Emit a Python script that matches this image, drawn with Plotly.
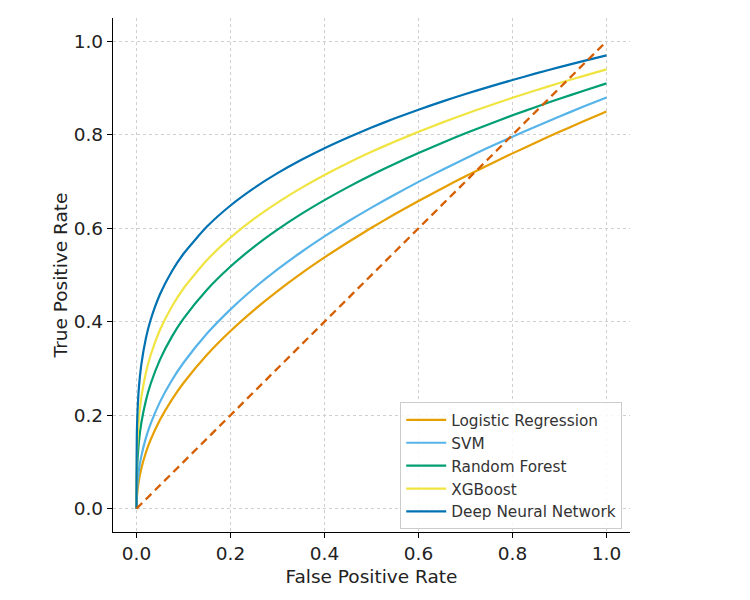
import plotly.graph_objects as go

fpr = [0, 0.001, 0.005, 0.01, 0.02, 0.03, 0.05, 0.075, 0.1, 0.15, 0.2, 0.25, 0.3, 0.35,
       0.4, 0.45, 0.5, 0.55, 0.6, 0.65, 0.7, 0.75, 0.8, 0.85, 0.9, 0.95, 1.0]

tpr_lr = [0, 0.0269, 0.0601, 0.085, 0.1202, 0.1472, 0.1901, 0.2328, 0.2688, 0.3292, 0.3801,
          0.425, 0.4656, 0.5029, 0.5376, 0.5702, 0.6010, 0.6304, 0.6584, 0.6853, 0.7112,
          0.7361, 0.7603, 0.7837, 0.8064, 0.8285, 0.85]
tpr_svm = [0, 0.0393, 0.0811, 0.1108, 0.1514, 0.1816, 0.2285, 0.2743, 0.3122, 0.3748, 0.4265,
           0.4716, 0.5119, 0.5487, 0.5826, 0.6144, 0.6442, 0.6724, 0.6993, 0.7249, 0.7495,
           0.7732, 0.7960, 0.8180, 0.8393, 0.8599, 0.88]
tpr_rf = [0, 0.0811, 0.1424, 0.1816, 0.2314, 0.2667, 0.3189, 0.3676, 0.4065, 0.4685, 0.5181,
          0.5602, 0.5971, 0.6302, 0.6603, 0.6881, 0.7140, 0.7382, 0.7610, 0.7826, 0.8032,
          0.8228, 0.8417, 0.8597, 0.8771, 0.8938, 0.91]
tpr_xgb = [0, 0.1183, 0.1918, 0.2361, 0.2907, 0.3283, 0.3827, 0.4321, 0.4711, 0.5320, 0.5800,
           0.6202, 0.6550, 0.6860, 0.7141, 0.7398, 0.7636, 0.7857, 0.8064, 0.8261, 0.8446,
           0.8623, 0.8792, 0.8953, 0.9108, 0.9256, 0.94]
tpr_dnn = [0, 0.1725, 0.2579, 0.3067, 0.3648, 0.4037, 0.4587, 0.5076, 0.5455, 0.6036, 0.6487,
           0.6859, 0.7179, 0.7461, 0.7714, 0.7944, 0.8157, 0.8353, 0.8537, 0.8710, 0.8873,
           0.9027, 0.9173, 0.9314, 0.9448, 0.9577, 0.97]

diag_x = [0, 1]
diag_y = [0, 1]

names = ["Logistic Regression", "SVM", "Random Forest", "XGBoost", "Deep Neural Network"]
series = [tpr_lr, tpr_svm, tpr_rf, tpr_xgb, tpr_dnn]
colors = ["#E69F00", "#56B4E9", "#009E73", "#F0E442", "#0072B2"]

fig = go.Figure()
for n, s, c in zip(names, series, colors):
    fig.add_trace(go.Scatter(x=fpr, y=s, mode="lines", name=n,
                             line=dict(color=c, width=2.2, shape="spline", smoothing=0.6)))
fig.add_trace(go.Scatter(x=diag_x, y=diag_y, mode="lines", showlegend=False,
                         line=dict(color="#D55E00", width=2.3, dash="8px,5px")))

axis_common = dict(
    showline=True, linecolor="black", linewidth=1.3, mirror=False,
    ticks="outside", ticklen=5, tickwidth=1.2, tickcolor="black",
    showgrid=True, gridcolor="#cfcfcf", griddash="3px,3px", gridwidth=1,
    zeroline=False, tickfont=dict(size=18.5, color="#222222"),
    tickvals=[0, 0.2, 0.4, 0.6, 0.8, 1.0],
    ticktext=["0.0", "0.2", "0.4", "0.6", "0.8", "1.0"],
)

fig.update_layout(
    width=750, height=600,
    margin=dict(l=113, r=120, t=18, b=68),
    paper_bgcolor="white", plot_bgcolor="white",
    font=dict(family="DejaVu Sans", color="#222222"),
    xaxis=dict(range=[-0.05, 1.05], title=dict(text="False Positive Rate", font=dict(size=18.5), standoff=6),
               **axis_common),
    yaxis=dict(range=[-0.05, 1.05], title=dict(text="True Positive Rate", font=dict(size=18.5), standoff=1),
               **axis_common),
    legend=dict(x=0.985, y=0.005, xanchor="right", yanchor="bottom",
                bordercolor="#cccccc", borderwidth=1, bgcolor="rgba(255,255,255,0.85)",
                font=dict(size=15.3, color="#333333"), itemwidth=40, tracegroupgap=0),
)

fig.write_html("out.html")
